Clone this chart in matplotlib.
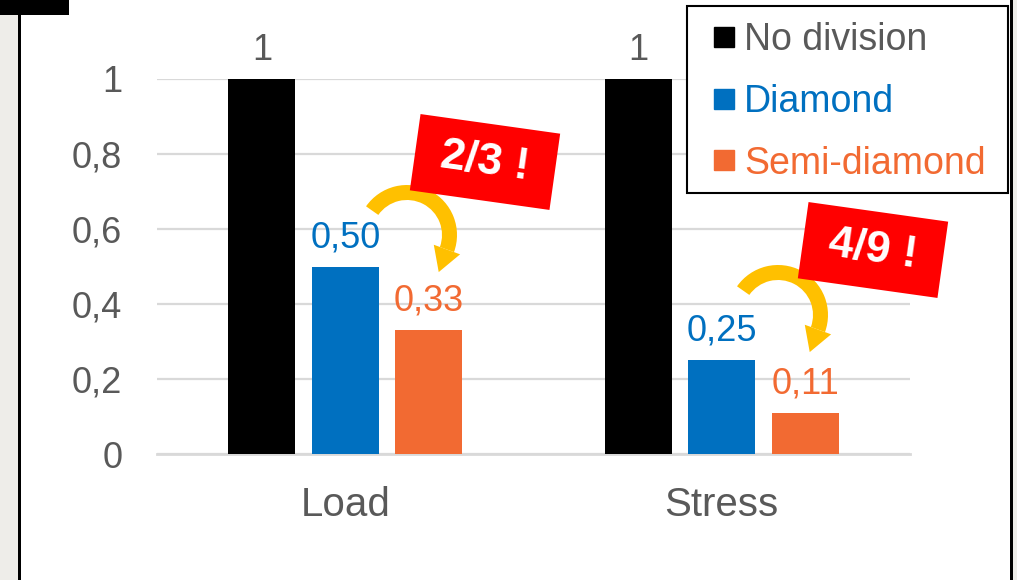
import matplotlib
matplotlib.use("Agg")
import matplotlib.pyplot as plt
from matplotlib.patches import Rectangle, Wedge, Polygon
from matplotlib.lines import Line2D
from matplotlib.ticker import FuncFormatter
import numpy as np

plt.rcParams['font.family'] = ['Liberation Sans', 'DejaVu Sans']

categories = ["Load", "Stress"]
series_names = ["No division", "Diamond", "Semi-diamond"]
no_division = [1.0, 1.0]
diamond = [0.50, 0.25]
semi_diamond = [0.33, 0.11]
value_labels = [["1", "1"], ["0,50", "0,25"], ["0,33", "0,11"]]
y_ticks = [0, 0.2, 0.4, 0.6, 0.8, 1.0]
callouts = ["2/3 !", "4/9 !"]

colors = ["#000000", "#0070C0", "#F26A32"]
label_colors = ["#595959", "#0070C0", "#F26A32"]
text_gray = "#595959"
grid_color = "#D9D9D9"

W, H = 1017, 580
fig = plt.figure(figsize=(W / 100, H / 100), dpi=100)
fig.patch.set_facecolor("white")

ax = fig.add_axes([157 / W, 1 - 454 / H, 753 / W, 375 / H])
ax.set_xlim(-0.5, 1.5)
ax.set_ylim(0, 1)

x = np.arange(len(categories))
bw = 67 / 377
off = 83.5 / 377
series = [no_division, diamond, semi_diamond]
for i, vals in enumerate(series):
    xs = x + (i - 1) * off
    bars = ax.bar(xs, vals, width=bw, color=colors[i], label=series_names[i], zorder=3)
    for j, b in enumerate(bars):
        ax.annotate(value_labels[i][j], (b.get_x() + b.get_width() / 2, b.get_height()),
                    xytext=(0, 14), textcoords="offset points", ha="center", va="baseline",
                    fontsize=26, color=label_colors[i], annotation_clip=False)

ax.set_yticks(y_ticks)
ax.yaxis.set_major_formatter(FuncFormatter(lambda v, p: ("%g" % v).replace(".", ",")))
ax.set_xticks(x)
ax.set_xticklabels(categories)
ax.tick_params(axis="y", length=0, pad=25, labelsize=26, labelcolor=text_gray)
ax.tick_params(axis="x", length=0, pad=23, labelsize=29, labelcolor=text_gray)
ax.grid(axis="y", color=grid_color, linewidth=1.6, zorder=0)
ax.set_axisbelow(True)
for s in ["top", "right", "left"]:
    ax.spines[s].set_visible(False)
ax.spines["bottom"].set_color(grid_color)
ax.spines["bottom"].set_linewidth(2)
ax.set_facecolor("none")

# overlay in pixel coordinates for decorations
ov = fig.add_axes([0, 0, 1, 1], zorder=5)
ov.set_xlim(0, W)
ov.set_ylim(H, 0)
ov.axis("off")
ov.patch.set_alpha(0)

# legend frame (drawn separately), then legend content
ov.add_patch(Rectangle((687, 6), 321, 187, facecolor="white", edgecolor="black", lw=1.5, zorder=1))
handles = [Line2D([], [], marker="s", linestyle="none", markersize=14.5,
                  markerfacecolor=c, markeredgecolor=c) for c in colors]
leg = ov.legend(handles, series_names, loc="upper left",
                bbox_to_anchor=(686 / W, 1.0), bbox_transform=fig.transFigure,
                fontsize=27, handlelength=0.8, handletextpad=0.15, borderpad=0.6,
                labelspacing=0.68, borderaxespad=0, frameon=False)
leg.set_zorder(6)
for t, c in zip(leg.get_texts(), label_colors):
    t.set_color(c)

# window frame
ov.add_patch(Rectangle((0, 0), 18, H, color="#EEEDE9", lw=0))
ov.add_patch(Rectangle((18, 0), 3, H, color="black", lw=0))
ov.add_patch(Rectangle((0, 0), 69, 15, color="black", lw=0))
ov.add_patch(Rectangle((1010, 0), 3, H, color="black", lw=0))
ov.add_patch(Rectangle((1013, 0), 4, H, color="#EEEDE9", lw=0))

gold = "#FFC000"

def curved_arrow(cx, cy):
    r_out, width = 50, 15
    ov.add_patch(Wedge((cx, cy), r_out, -145, 20, width=width, color=gold, lw=0))
    th = np.deg2rad(20)
    rm = r_out - width / 2
    mx, my = cx + rm * np.cos(th), cy + rm * np.sin(th)
    rad = np.array([np.cos(th), np.sin(th)])
    tan = np.array([-np.sin(th), np.cos(th)])
    p1 = np.array([mx, my]) + 14 * rad
    p2 = np.array([mx, my]) - 14 * rad
    tip = np.array([mx, my]) + 24 * tan
    ov.add_patch(Polygon([p1, tip, p2], closed=True, color=gold, lw=0))

curved_arrow(407, 235)
curved_arrow(778, 315)

def callout(cx, cy, txt):
    w, h = 141, 77
    ov.add_patch(Rectangle((cx - w / 2, cy - h / 2), w, h, angle=8,
                           rotation_point="center", color="#FF0000", lw=0, zorder=3))
    ov.text(cx, cy, txt, rotation=-8, ha="center", va="center", color="white",
            fontsize=32, fontweight="bold", rotation_mode="anchor", zorder=4)

callout(485, 162, callouts[0])
callout(873, 250, callouts[1])

fig.savefig("out.png", dpi=100)
